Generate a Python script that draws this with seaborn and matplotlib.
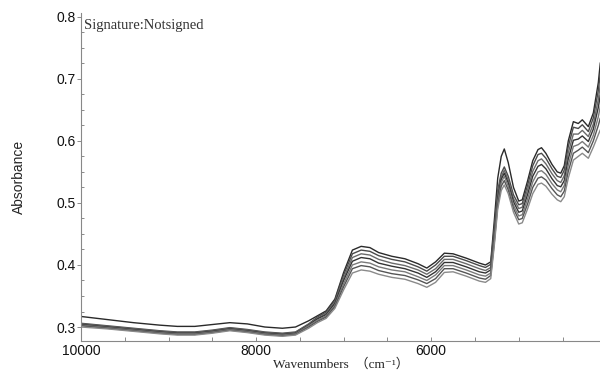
import pandas as pd
import matplotlib
matplotlib.use("Agg")
import matplotlib.pyplot as plt
from matplotlib.ticker import MultipleLocator
import seaborn as sns

# ---------------- DATA ----------------
wavenumbers = [10000, 9700, 9400, 9100, 8900, 8700, 8500, 8300, 8100, 7900,
               7700, 7550, 7400, 7300, 7200, 7100, 7000, 6900, 6800, 6700,
               6600, 6450, 6300, 6150, 6050, 5950, 5850, 5750, 5600, 5450,
               5380, 5320, 5280, 5240, 5200, 5165, 5120, 5060, 5000, 4960,
               4900, 4840, 4780, 4740, 4690, 4620, 4560, 4520, 4480, 4434,
               4376, 4320, 4274, 4205, 4148, 4091, 4068]

sample_1 = [.317, .312, .307, .303, .301, .301, .304, .307, .305, .300,
            .298, .300, .310, .318, .326, .345, .388, .424, .430, .428,
            .420, .414, .410, .402, .395, .405, .419, .418, .411, .403,
            .400, .405, .470, .540, .575, .587, .565, .525, .503, .505,
            .535, .568, .586, .589, .580, .562, .550, .548, .560, .600,
            .631, .628, .634, .623, .645, .694, .726]
sample_2 = [.306, .302, .298, .294, .292, .292, .295, .299, .296, .292,
            .290, .292, .305, .316, .324, .343, .384, .418, .424, .422,
            .415, .409, .405, .397, .390, .400, .414, .414, .407, .399,
            .396, .401, .458, .520, .548, .558, .543, .513, .497, .499,
            .528, .560, .578, .580, .572, .555, .543, .541, .553, .591,
            .622, .620, .626, .615, .637, .681, .710]
sample_3 = [.305, .301, .297, .293, .291, .291, .294, .298, .295, .291,
            .289, .291, .304, .314, .322, .340, .379, .412, .418, .416,
            .409, .403, .399, .392, .385, .394, .409, .409, .402, .394,
            .391, .396, .452, .514, .542, .553, .537, .507, .491, .493,
            .521, .551, .568, .571, .563, .547, .536, .533, .544, .581,
            .611, .611, .617, .607, .627, .667, .691]
sample_4 = [.304, .300, .296, .292, .290, .290, .293, .297, .294, .290,
            .288, .290, .303, .313, .320, .338, .375, .406, .412, .410,
            .403, .398, .394, .387, .380, .389, .404, .404, .397, .389,
            .387, .392, .446, .508, .538, .548, .532, .502, .485, .487,
            .513, .543, .559, .562, .555, .539, .528, .526, .536, .571,
            .601, .603, .608, .599, .619, .654, .674]
sample_5 = [.303, .299, .295, .291, .289, .289, .292, .296, .293, .289,
            .287, .289, .302, .311, .318, .335, .370, .400, .405, .403,
            .397, .392, .389, .381, .375, .384, .399, .399, .392, .384,
            .382, .387, .440, .502, .533, .543, .527, .496, .479, .481,
            .506, .534, .550, .552, .546, .531, .521, .518, .528, .561,
            .591, .594, .599, .590, .609, .639, .656]
sample_6 = [.302, .298, .294, .290, .288, .288, .291, .295, .292, .288,
            .286, .288, .300, .309, .316, .333, .365, .394, .399, .397,
            .391, .386, .383, .376, .370, .378, .394, .394, .387, .379,
            .377, .383, .435, .496, .527, .536, .521, .491, .473, .475,
            .498, .525, .540, .542, .537, .523, .513, .510, .519, .551,
            .580, .585, .590, .581, .600, .625, .637]
sample_7 = [.300, .297, .293, .289, .287, .287, .290, .294, .291, .287,
            .285, .287, .298, .307, .314, .330, .360, .387, .392, .390,
            .385, .380, .377, .370, .364, .372, .388, .389, .382, .374,
            .372, .378, .430, .490, .520, .529, .515, .485, .466, .468,
            .490, .515, .530, .532, .527, .514, .505, .502, .510, .540,
            .569, .575, .580, .572, .590, .610, .618]

samples = [sample_1, sample_2, sample_3, sample_4, sample_5, sample_6, sample_7]
sample_names = ["S1", "S2", "S3", "S4", "S5", "S6", "S7"]
line_colors = ["#2a2a2a", "#4a4a4a", "#6a6a6a", "#333333", "#7a7a7a", "#555555", "#8a8a8a"]

df = pd.concat(
    [pd.DataFrame({"wavenumber": wavenumbers, "absorbance": vals, "sample": name})
     for name, vals in zip(sample_names, samples)],
    ignore_index=True,
)

# ---------------- VISUALIZATION ----------------
sns.set_style("ticks")
plt.rcParams["font.family"] = ["Liberation Sans", "DejaVu Sans"]

fig = plt.figure(figsize=(6, 3.76), dpi=100)
ax = fig.add_axes([0.135, 0.093, 0.866, 0.873])

sns.lineplot(
    data=df, x="wavenumber", y="absorbance", hue="sample",
    palette=dict(zip(sample_names, line_colors)),
    estimator=None, legend=False, linewidth=1.0, ax=ax,
)

ax.set_xlim(10000, 4065)
ax.set_ylim(0.2774, 0.8065)
ax.set_xticks([10000, 8000, 6000])
ax.set_yticks([0.3, 0.4, 0.5, 0.6, 0.7, 0.8])
ax.set_yticklabels(["0.3", "0.4", "0.5", "0.6", "0.7", "0.8"])
ax.xaxis.set_minor_locator(MultipleLocator(500))
ax.yaxis.set_minor_locator(MultipleLocator(0.025))

ax.tick_params(axis="x", which="both", direction="in", length=3, width=0.6,
               color="#777777", labelsize=10, labelcolor="#111111", pad=2)
ax.tick_params(axis="y", which="major", direction="out", length=3, width=0.6,
               color="#777777", labelsize=10, labelcolor="#111111", pad=1)
ax.tick_params(axis="y", which="minor", direction="in", length=2.5, width=0.6,
               color="#777777")

for side in ["top", "right"]:
    ax.spines[side].set_visible(False)
for side in ["left", "bottom"]:
    ax.spines[side].set_color("#888888")
    ax.spines[side].set_linewidth(0.8)

ax.set_ylabel("Absorbance", fontsize=10, labelpad=22)
ax.set_xlabel("Wavenumbers\u2002（cm\u207b\u00b9）", fontsize=9.5, labelpad=0,
              family=["Liberation Serif", "DejaVu Serif", "Noto Sans CJK SC"])
ax.text(0.006, 0.96, "Signature:Notsigned", transform=ax.transAxes,
        fontsize=10.5, va="center", ha="left", color="#333333",
        family=["Liberation Serif", "DejaVu Serif"])

fig.savefig("out.png", dpi=100)
